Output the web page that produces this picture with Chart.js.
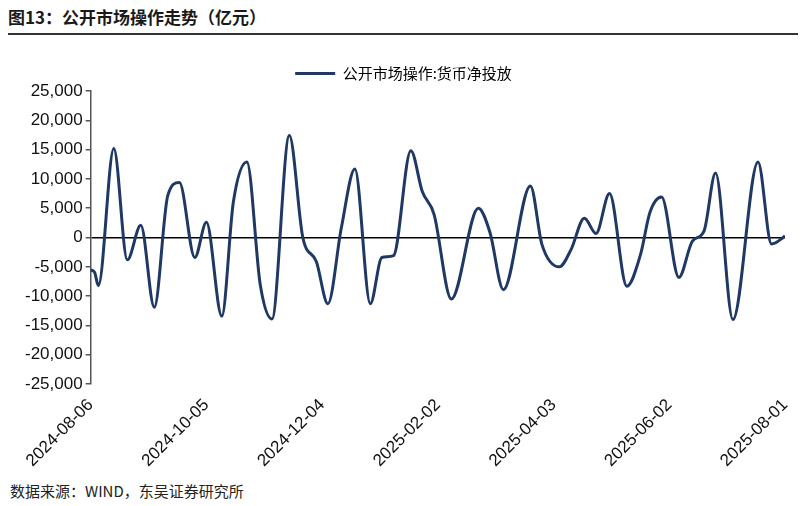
<!DOCTYPE html>
<html><head><meta charset="utf-8">
<script src="https://cdn.jsdelivr.net/npm/chart.js@4"></script>
<style>
body{margin:0;width:805px;height:506px;background:#fff;font-family:"Noto Sans CJK SC",sans-serif;overflow:hidden}
#title{position:absolute;left:8px;top:4px;width:790px;font-size:17px;font-weight:bold;color:#1a1a1a;border-bottom:2px solid #333;padding-bottom:4px}
#wrap{position:absolute;left:0;top:50px;width:805px;height:424px}
#src{position:absolute;left:10px;top:480px;font-size:15px;color:#222;font-family:"Noto Sans CJK SC",serif}
</style></head><body>
<div id="title">图13：公开市场操作走势（亿元）</div>
<div id="wrap"><canvas id="c"></canvas></div>
<div id="src">数据来源：WIND，东吴证券研究所</div>
<script>
const START = new Date(2024, 7, 6);
// days since 2024-08-06
const days = [0,2,4,12,19,26,33,40,46,54,60,68,74,81,88,94,103,110,117,123,130,137,145,151,157,166,172,178,187,201,207,214,228,234,243,249,256,262,269,278,285,290,296,305,312,318,324,333,346,353,359,360];
const netInjection = [-5500,-5900,-8200,15200,-3800,2100,-11900,7200,9400,-3400,2600,-13400,6100,12900,-8200,-13900,17400,0,-4100,-11300,1700,11700,-11300,-3400,-3100,14800,7800,4000,-10500,5000,900,-8900,8800,-1200,-5000,-2100,3300,700,7500,-8300,-3000,4300,6900,-6800,-600,1100,11000,-14000,12900,-1100,0,300];
const yTicks = [-25000,-20000,-15000,-10000,-5000,0,5000,10000,15000,20000,25000];
const xTickDays = [0,60,120,180,240,300,360];

function fmtDate(d) {
    const t = new Date(START.getTime() + d * 86400000);
    return t.getFullYear() + '-' + String(t.getMonth()+1).padStart(2,'0') + '-' + String(t.getDate()).padStart(2,'0');
}

new Chart(document.getElementById('c'), {
    type: 'line',
    data: { datasets: [{ label: '公开市场操作:货币净投放', data: days.map((d, i) => ({x: d, y: netInjection[i]})), borderColor: '#1f3864', borderWidth: 3, pointRadius: 0, cubicInterpolationMode: 'monotone', fill: false }] },
    options: {
        responsive: true, maintainAspectRatio: false, animation: false,
        layout: { padding: { left: 22, right: 20, top: 0, bottom: 0 } },
        plugins: { legend: { labels: { boxWidth: 40, boxHeight: 0, padding: 16, color: '#222', font: { size: 15, family: 'Noto Sans CJK SC' }, generateLabels: c => [{ text: '公开市场操作:货币净投放', strokeStyle: '#1f3864', lineWidth: 3, fillStyle: '#1f3864' }] } } },
        scales: {
            x: { type: 'linear', min: 0, max: 360, afterBuildTicks: s => { s.ticks = xTickDays.map(v => ({value: v})); },
                 ticks: { callback: v => fmtDate(v), maxRotation: 45, minRotation: 45, color: '#111', font: { size: 17, family: 'Arial' } },
                 grid: { display: false }, border: { display: false } },
            y: { min: -25000, max: 25000, afterBuildTicks: s => { s.ticks = yTicks.map(v => ({value: v})); },
                 ticks: { callback: v => v.toLocaleString('en-US'), color: '#111', font: { size: 17, family: 'Arial' } },
                 grid: { color: ctx => ctx.tick && ctx.tick.value === 0 ? '#000' : 'transparent', lineWidth: 1.5, tickColor: '#555', tickLength: 5 },
                 border: { color: '#555', width: 1.5 } }
        }
    }
});
</script>
</body></html>
